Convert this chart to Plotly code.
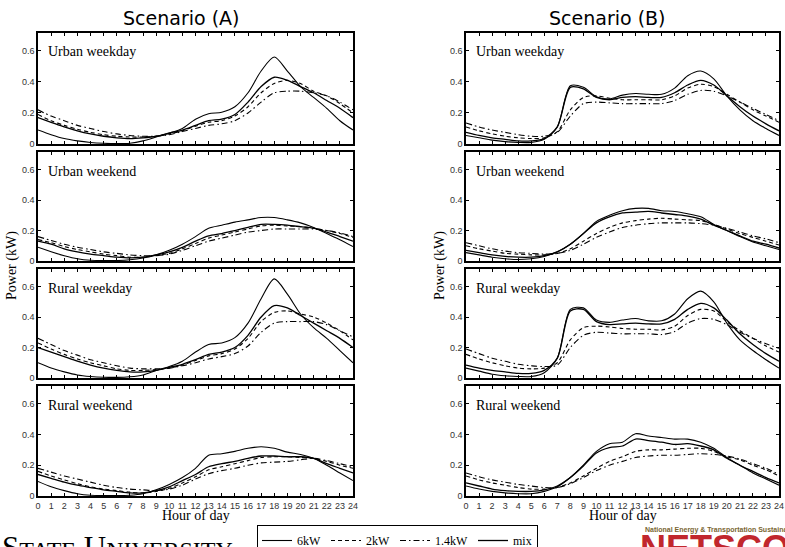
import plotly.graph_objects as go

hours = list(range(25))
series_names = ["6kW", "2kW", "1.4kW", "mix"]
panel_labels = ["Urban weekday", "Urban weekend", "Rural weekday", "Rural weekend"]
scenario_titles = ["Scenario (A)", "Scenario (B)"]
y_tick_vals = [0, 0.2, 0.4, 0.6]
y_tick_text = ["0", "0.2", "0.4", "0.6"]
x_tick_text = [str(h) for h in hours]

# ---------------- Scenario A ----------------
a_uwd_6kw = [0.09, 0.06, 0.035, 0.02, 0.01, 0.005, 0.003, 0.005, 0.02, 0.045, 0.07, 0.1, 0.16, 0.195, 0.205, 0.24, 0.33, 0.47, 0.56, 0.47, 0.37, 0.3, 0.23, 0.15, 0.09]
a_uwd_2kw = [0.19, 0.15, 0.12, 0.095, 0.075, 0.06, 0.05, 0.045, 0.045, 0.05, 0.065, 0.085, 0.115, 0.14, 0.15, 0.18, 0.24, 0.33, 0.39, 0.41, 0.39, 0.34, 0.31, 0.26, 0.2]
a_uwd_14kw = [0.22, 0.18, 0.15, 0.12, 0.1, 0.08, 0.065, 0.055, 0.05, 0.05, 0.06, 0.08, 0.1, 0.12, 0.13, 0.15, 0.2, 0.27, 0.33, 0.34, 0.34, 0.33, 0.31, 0.27, 0.22]
a_uwd_mix = [0.17, 0.14, 0.11, 0.085, 0.065, 0.05, 0.04, 0.035, 0.04, 0.05, 0.07, 0.09, 0.12, 0.15, 0.16, 0.19, 0.27, 0.37, 0.43, 0.41, 0.37, 0.33, 0.28, 0.23, 0.17]

a_uwe_6kw = [0.09, 0.06, 0.035, 0.015, 0.005, 0.003, 0.003, 0.008, 0.02, 0.04, 0.07, 0.11, 0.16, 0.215, 0.235, 0.255, 0.27, 0.285, 0.285, 0.27, 0.25, 0.22, 0.18, 0.14, 0.095]
a_uwe_2kw = [0.14, 0.12, 0.095, 0.075, 0.06, 0.045, 0.035, 0.025, 0.025, 0.035, 0.05, 0.08, 0.115, 0.15, 0.17, 0.19, 0.21, 0.23, 0.235, 0.23, 0.225, 0.215, 0.2, 0.18, 0.155]
a_uwe_14kw = [0.16, 0.135, 0.11, 0.09, 0.075, 0.06, 0.05, 0.04, 0.035, 0.035, 0.045, 0.07, 0.1, 0.13, 0.15, 0.17, 0.19, 0.2, 0.21, 0.21, 0.21, 0.21, 0.2, 0.185, 0.16]
a_uwe_mix = [0.13, 0.11, 0.08, 0.06, 0.045, 0.035, 0.025, 0.02, 0.025, 0.04, 0.06, 0.09, 0.13, 0.165, 0.18, 0.2, 0.22, 0.24, 0.24, 0.235, 0.225, 0.215, 0.19, 0.16, 0.13]

a_rwd_6kw = [0.1, 0.065, 0.04, 0.02, 0.01, 0.005, 0.004, 0.008, 0.02, 0.05, 0.075, 0.11, 0.17, 0.22, 0.23, 0.265, 0.36, 0.52, 0.65, 0.55, 0.42, 0.33, 0.26, 0.18, 0.1]
a_rwd_2kw = [0.23, 0.19, 0.155, 0.125, 0.1, 0.08, 0.06, 0.05, 0.05, 0.055, 0.065, 0.085, 0.115, 0.145, 0.16, 0.19, 0.26, 0.37, 0.43, 0.44, 0.42, 0.4, 0.36, 0.31, 0.25]
a_rwd_14kw = [0.26, 0.22, 0.18, 0.15, 0.12, 0.1, 0.08, 0.065, 0.06, 0.06, 0.065, 0.08, 0.1, 0.125, 0.14, 0.16, 0.21, 0.3, 0.36, 0.37, 0.37, 0.37, 0.35, 0.31, 0.27]
a_rwd_mix = [0.2, 0.17, 0.14, 0.11, 0.085, 0.065, 0.05, 0.04, 0.04, 0.05, 0.07, 0.09, 0.12, 0.155, 0.17, 0.2, 0.28, 0.4, 0.475, 0.46, 0.41, 0.36, 0.31, 0.26, 0.2]

a_rwe_6kw = [0.095, 0.06, 0.035, 0.015, 0.005, 0.003, 0.003, 0.005, 0.015, 0.04, 0.075, 0.12, 0.18, 0.265, 0.275, 0.29, 0.31, 0.32, 0.31, 0.285, 0.27, 0.245, 0.2, 0.15, 0.1]
a_rwe_2kw = [0.16, 0.13, 0.105, 0.08, 0.06, 0.045, 0.035, 0.025, 0.02, 0.03, 0.05, 0.085, 0.125, 0.17, 0.19, 0.21, 0.23, 0.25, 0.255, 0.255, 0.25, 0.245, 0.225, 0.2, 0.18]
a_rwe_14kw = [0.18, 0.155, 0.13, 0.11, 0.09, 0.07, 0.055, 0.045, 0.04, 0.035, 0.045, 0.07, 0.11, 0.145, 0.165, 0.18, 0.2, 0.215, 0.22, 0.225, 0.235, 0.245, 0.23, 0.21, 0.19]
a_rwe_mix = [0.14, 0.115, 0.09, 0.07, 0.055, 0.04, 0.03, 0.02, 0.02, 0.035, 0.06, 0.1, 0.14, 0.19, 0.21, 0.225, 0.245, 0.26, 0.26, 0.255, 0.255, 0.245, 0.21, 0.18, 0.15]

# ---------------- Scenario B ----------------
b_uwd_6kw = [0.055, 0.04, 0.025, 0.015, 0.01, 0.01, 0.03, 0.11, 0.375, 0.365, 0.305, 0.29, 0.315, 0.325, 0.32, 0.32, 0.36, 0.44, 0.47, 0.42, 0.31, 0.22, 0.15, 0.1, 0.055]
b_uwd_2kw = [0.11, 0.085, 0.065, 0.05, 0.04, 0.035, 0.04, 0.08, 0.22, 0.3, 0.31, 0.295, 0.285, 0.285, 0.285, 0.285, 0.31, 0.36, 0.385, 0.37, 0.32, 0.27, 0.22, 0.18, 0.14]
b_uwd_14kw = [0.135, 0.11, 0.09, 0.075, 0.06, 0.05, 0.05, 0.075, 0.18, 0.26, 0.27, 0.265, 0.26, 0.26, 0.26, 0.26, 0.28, 0.32, 0.345, 0.34, 0.31, 0.27, 0.23, 0.19, 0.15]
b_uwd_mix = [0.075, 0.055, 0.04, 0.03, 0.02, 0.02, 0.035, 0.11, 0.365, 0.355, 0.3, 0.285, 0.3, 0.305, 0.3, 0.3, 0.33, 0.38, 0.41, 0.38, 0.31, 0.24, 0.18, 0.13, 0.085]

b_uwe_6kw = [0.055, 0.04, 0.025, 0.015, 0.01, 0.015, 0.03, 0.06, 0.11, 0.18, 0.26, 0.3, 0.33, 0.345, 0.345, 0.33, 0.325, 0.31, 0.29, 0.24, 0.2, 0.16, 0.125, 0.1, 0.075]
b_uwe_2kw = [0.1, 0.08, 0.065, 0.05, 0.045, 0.04, 0.04, 0.05, 0.08, 0.13, 0.18, 0.22, 0.25, 0.265, 0.275, 0.28, 0.275, 0.27, 0.265, 0.24, 0.21, 0.18, 0.155, 0.13, 0.105]
b_uwe_14kw = [0.12, 0.1, 0.08, 0.065, 0.055, 0.05, 0.045, 0.05, 0.07, 0.11, 0.155, 0.19, 0.22, 0.235, 0.245, 0.25, 0.25, 0.25, 0.245, 0.235, 0.215, 0.19, 0.165, 0.145, 0.12]
b_uwe_mix = [0.07, 0.055, 0.04, 0.03, 0.025, 0.025, 0.035, 0.06, 0.11, 0.18, 0.25, 0.29, 0.315, 0.32, 0.325, 0.315, 0.305, 0.295, 0.275, 0.235, 0.2, 0.165, 0.13, 0.11, 0.085]

b_rwd_6kw = [0.065, 0.045, 0.025, 0.015, 0.01, 0.01, 0.035, 0.13, 0.45, 0.46, 0.38, 0.365, 0.38, 0.39, 0.375, 0.375, 0.42, 0.52, 0.57, 0.5, 0.36, 0.25, 0.18, 0.12, 0.065]
b_rwd_2kw = [0.155, 0.125, 0.1, 0.08, 0.065, 0.06, 0.065, 0.1, 0.25, 0.33, 0.34, 0.335, 0.325, 0.32, 0.32, 0.315, 0.34, 0.41, 0.45, 0.44, 0.37, 0.31, 0.26, 0.21, 0.17]
b_rwd_14kw = [0.19, 0.16, 0.13, 0.11, 0.09, 0.08, 0.075, 0.085, 0.2, 0.28, 0.3, 0.295, 0.29, 0.29, 0.29, 0.285, 0.305, 0.36, 0.39, 0.385, 0.35, 0.3, 0.26, 0.225, 0.195]
b_rwd_mix = [0.085, 0.065, 0.05, 0.04, 0.03, 0.03, 0.05, 0.13, 0.44, 0.45, 0.37, 0.35, 0.355, 0.36, 0.355, 0.355, 0.385, 0.45, 0.49, 0.46, 0.38, 0.29, 0.22, 0.16, 0.11]

b_rwe_6kw = [0.065, 0.045, 0.03, 0.02, 0.015, 0.015, 0.03, 0.06, 0.12, 0.2, 0.29, 0.34, 0.35, 0.405, 0.39, 0.38, 0.37, 0.37, 0.35, 0.31, 0.25, 0.2, 0.15, 0.11, 0.07]
b_rwe_2kw = [0.13, 0.105, 0.085, 0.07, 0.055, 0.045, 0.045, 0.055, 0.085, 0.13, 0.18, 0.225, 0.255, 0.29, 0.3, 0.3, 0.305, 0.31, 0.31, 0.29, 0.255, 0.235, 0.2, 0.17, 0.13]
b_rwe_14kw = [0.15, 0.125, 0.105, 0.09, 0.075, 0.065, 0.055, 0.055, 0.08, 0.12, 0.165, 0.2, 0.225, 0.25, 0.26, 0.265, 0.265, 0.27, 0.275, 0.27, 0.26, 0.24, 0.21, 0.18, 0.14]
b_rwe_mix = [0.085, 0.065, 0.045, 0.035, 0.03, 0.03, 0.04, 0.065, 0.12, 0.195, 0.28, 0.315, 0.325, 0.37, 0.36, 0.35, 0.335, 0.34, 0.325, 0.3, 0.245, 0.2, 0.16, 0.12, 0.085]

panels = [
    [
        [a_uwd_6kw, a_uwd_2kw, a_uwd_14kw, a_uwd_mix],
        [a_uwe_6kw, a_uwe_2kw, a_uwe_14kw, a_uwe_mix],
        [a_rwd_6kw, a_rwd_2kw, a_rwd_14kw, a_rwd_mix],
        [a_rwe_6kw, a_rwe_2kw, a_rwe_14kw, a_rwe_mix],
    ],
    [
        [b_uwd_6kw, b_uwd_2kw, b_uwd_14kw, b_uwd_mix],
        [b_uwe_6kw, b_uwe_2kw, b_uwe_14kw, b_uwe_mix],
        [b_rwd_6kw, b_rwd_2kw, b_rwd_14kw, b_rwd_mix],
        [b_rwe_6kw, b_rwe_2kw, b_rwe_14kw, b_rwe_mix],
    ],
]

# ---------------- styling / layout ----------------
W, H = 785, 547
col_px = [(38, 353), (466, 779)]
row_px = [(33, 144), (152, 261), (269, 378), (386, 496)]
dashes = ["solid", "4px,3px", "6px,3px,1.5px,3px", "solid"]
widths = [1.1, 1.1, 1.1, 1.3]
serif = "Liberation Serif, Times New Roman, serif"
sans = "Liberation Sans, Arial, sans-serif"

fig = go.Figure()
layout = {}
for c in range(2):
    for r in range(4):
        k = c * 4 + r + 1
        xname = "x" if k == 1 else f"x{k}"
        yname = "y" if k == 1 else f"y{k}"
        for s in range(4):
            fig.add_trace(go.Scatter(
                x=hours, y=panels[c][r][s], xaxis=xname, yaxis=yname,
                mode="lines", name=series_names[s], legendgroup=series_names[s],
                showlegend=(k == 1),
                line=dict(color="black", width=widths[s], dash=dashes[s], shape="spline", smoothing=0.8),
                hoverinfo="skip",
            ))
        x0, x1 = col_px[c]
        y0, y1 = row_px[r]
        layout["xaxis" if k == 1 else f"xaxis{k}"] = dict(
            domain=[x0 / W, x1 / W], anchor=yname, range=[0, 24],
            tickmode="array", tickvals=hours, ticktext=x_tick_text,
            showticklabels=(r == 3), ticks="inside", ticklen=3, tickwidth=1, tickcolor="black",
            showline=True, linecolor="black", linewidth=1.5, mirror="ticks",
            showgrid=False, zeroline=False,
            tickfont=dict(family=sans, size=9, color="#333"),
        )
        layout["yaxis" if k == 1 else f"yaxis{k}"] = dict(
            domain=[1 - y1 / H, 1 - y0 / H], anchor=xname, range=[0, 0.715],
            tickmode="array", tickvals=y_tick_vals, ticktext=y_tick_text,
            ticks="inside", ticklen=3, tickwidth=1, tickcolor="black",
            showline=True, linecolor="black", linewidth=1.5, mirror="ticks",
            showgrid=False, zeroline=False,
            tickfont=dict(family=sans, size=9, color="#333"),
        )

annotations = []
for c in range(2):
    x0, x1 = col_px[c]
    for r in range(4):
        y0, y1 = row_px[r]
        annotations.append(dict(
            text=panel_labels[r], xref="paper", yref="paper",
            x=(x0 + 8) / W, y=1 - (y0 + 19) / H, xanchor="left", yanchor="middle",
            showarrow=False, font=dict(family=serif, size=14, color="black"),
        ))
    annotations.append(dict(
        text=scenario_titles[c], xref="paper", yref="paper",
        x=[181, 607][c] / W, y=1 - 18 / H, xanchor="center", yanchor="middle",
        showarrow=False, font=dict(family="DejaVu Sans, sans-serif", size=19, color="black"),
    ))
    annotations.append(dict(
        text="Hour of day", xref="paper", yref="paper",
        x=[196, 623][c] / W, y=1 - 515 / H, xanchor="center", yanchor="middle",
        showarrow=False, font=dict(family=serif, size=14, color="black"),
    ))
    annotations.append(dict(
        text="Power (kW)", xref="paper", yref="paper", textangle=-90,
        x=[12, 440][c] / W, y=1 - 266 / H, xanchor="center", yanchor="middle",
        showarrow=False, font=dict(family=serif, size=14, color="black"),
    ))

annotations.append(dict(
    text="S<span style='font-size:24px'>TATE</span> U<span style='font-size:24px'>NIVERSITY</span>",
    xref="paper", yref="paper", x=0, y=1 - 528 / H, xanchor="left", yanchor="top",
    showarrow=False, font=dict(family=serif, size=31, color="black"),
))
annotations.append(dict(
    text="<b>National Energy &amp; Transportation Sustainability</b>",
    xref="paper", yref="paper", x=643 / W, y=1 - 530 / H, xanchor="left", yanchor="middle",
    showarrow=False, font=dict(family=sans, size=7, color="#7a6632"),
))
annotations.append(dict(
    text="<b>NETSCORE</b>",
    xref="paper", yref="paper", x=638 / W, y=1 - 526 / H, xanchor="left", yanchor="top",
    showarrow=False, font=dict(family=sans, size=36, color="#c1272d"),
))

fig.update_layout(
    **layout,
    annotations=annotations,
    width=W, height=H,
    margin=dict(l=0, r=0, t=0, b=0, autoexpand=False),
    paper_bgcolor="white", plot_bgcolor="white",
    showlegend=True,
    legend=dict(
        orientation="h", x=257 / W, y=1 - 525 / H, xanchor="left", yanchor="top",
        bordercolor="black", borderwidth=1, bgcolor="white",
        font=dict(family=serif, size=12, color="black"),
        itemwidth=30, tracegroupgap=0,
    ),
)

fig.write_html(
    "out.html",
    config={"displayModeBar": False},
    post_script="document.body.style.margin='0px';document.body.style.padding='0px';document.body.style.overflow='hidden';",
)
